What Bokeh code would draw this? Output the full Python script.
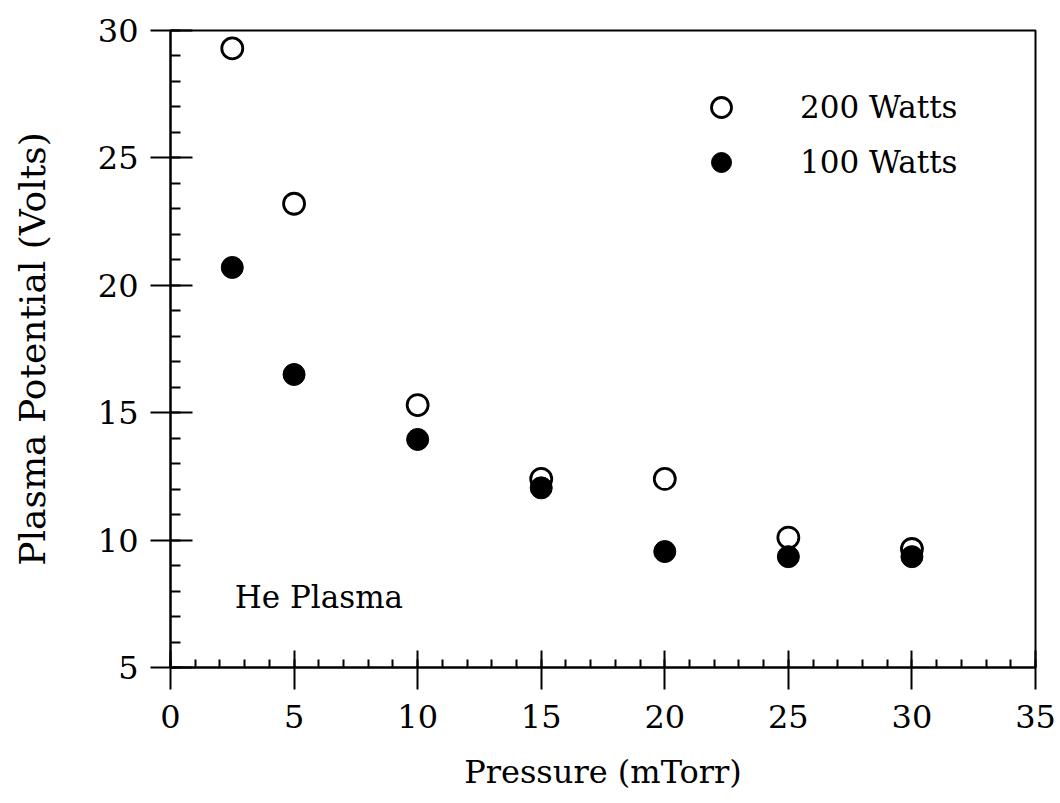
from bokeh.plotting import figure
from bokeh.models import Range1d, SingleIntervalTicker, Legend, LegendItem, Label
from bokeh.embed import file_html
from bokeh.resources import INLINE

pressure = [2.5, 5, 10, 15, 20, 25, 30]
v200 = [29.3, 23.2, 15.3, 12.4, 12.4, 10.1, 9.65]
v100 = [20.7, 16.5, 13.95, 12.05, 9.55, 9.35, 9.35]
labels = ["200 Watts", "100 Watts"]
annotation = "He Plasma"
FONT = "DejaVu Serif"

p = figure(width=1060, height=803, output_backend="svg", toolbar_location=None,
           x_range=Range1d(0, 35), y_range=Range1d(5, 30),
           min_border_left=170, min_border_right=25, min_border_top=30, min_border_bottom=136)
p.background_fill_color = "white"
p.border_fill_color = "white"
p.grid.visible = False
p.outline_line_color = "black"
p.outline_line_width = 2

for ax in (p.xaxis[0], p.yaxis[0]):
    ax.ticker = SingleIntervalTicker(interval=5, num_minor_ticks=5)
    ax.axis_line_width = 2
    ax.major_tick_line_width = 2
    ax.minor_tick_line_width = 2
    ax.minor_tick_out = 0
    ax.major_label_text_font = FONT
    ax.major_label_text_font_size = "32px"
    ax.major_label_text_color = "black"
    ax.axis_label_text_font = FONT
    ax.axis_label_text_font_style = "normal"
    ax.axis_label_text_color = "black"

p.xaxis.axis_label = "Pressure (mTorr)"
p.xaxis.axis_label_text_font_size = "32px"
p.xaxis.major_tick_in = 17
p.xaxis.major_tick_out = 22
p.xaxis.minor_tick_in = 8
p.xaxis.major_label_standoff = 15
p.xaxis.axis_label_standoff = 22

p.yaxis.axis_label = "Plasma Potential (Volts)"
p.yaxis.axis_label_text_font_size = "36px"
p.yaxis.major_tick_in = 22
p.yaxis.major_tick_out = 20
p.yaxis.minor_tick_in = 10
p.yaxis.major_label_standoff = 12
p.yaxis.axis_label_standoff = 42

r200 = p.scatter(pressure, v200, size=21, marker="circle", fill_color=None,
                 line_color="black", line_width=2.8)
r100 = p.scatter(pressure, v100, size=22, marker="circle", fill_color="black",
                 line_color="black", line_width=1)

legend = Legend(items=[LegendItem(label=labels[0], renderers=[r200]),
                       LegendItem(label=labels[1], renderers=[r100])],
                location=(526, 480), orientation="vertical",
                glyph_width=50, glyph_height=50, spacing=5, padding=0, margin=0,
                label_standoff=54, label_text_font=FONT, label_text_font_size="31px",
                label_text_color="black", border_line_color=None,
                background_fill_alpha=0)
p.add_layout(legend)

p.add_layout(Label(x=2.6, y=7.75, text=annotation, text_font=FONT,
                   text_font_size="31px", text_color="black", text_baseline="alphabetic"))

open("out.html", "w").write(file_html(p, INLINE))
